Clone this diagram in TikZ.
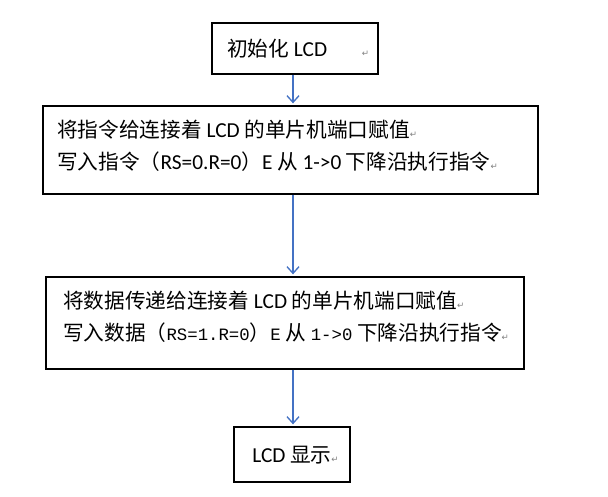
\documentclass[tikz,border=0pt]{standalone}
\usepackage{fontspec}
\setmainfont{Noto Sans CJK SC}
\newfontfamily\latfnt{Carlito}
\newfontfamily\monofnt{Liberation Mono}
\newfontfamily\symfnt{DejaVu Sans}
\usetikzlibrary{arrows.meta,fit}
\definecolor{arrowblue}{RGB}{68,114,196}
\newcommand\pmark{{\symfnt\fontsize{6.5}{8}\selectfont\color{gray}↵}}
\newcommand\lt[1]{{\latfnt\fontsize{16}{18}\selectfont #1}}
\newcommand\ms[1]{{\monofnt\fontsize{13}{15}\selectfont #1}}
\begin{document}
\begin{tikzpicture}[x=0.75pt,y=-0.75pt,
  box/.style={draw=black,line width=1pt,inner sep=0pt},
  txt/.style={anchor=base west,inner sep=0pt,font=\fontsize{15.5}{18}\selectfont},
  arr/.style={draw=arrowblue,line width=1pt,shorten >=1.5pt,-{Straight Barb[length=5pt,width=9pt]}}]
\fill[white] (0,0) rectangle (608,497);
\useasboundingbox (0,0) rectangle (608,497);

\node[box, fit={(212,23) (378,74)}] (b1) {};
\node[box, fit={(43,106) (538,194)}] (b2) {};
\node[box, fit={(46,277) (524,369)}] (b3) {};
\node[box, fit={(234,427) (350,482)}] (b4) {};

\node[txt] (t1) at (227,56) {初始化 \lt{LCD}\hspace{26pt}\pmark};
\node[txt] (t2a) at (57,137) {将指令给连接着 \lt{LCD} 的单片机端口赋值\pmark};
\node[txt] (t2b) at (57,169) {写入指令（\lt{RS=0.R=0}）\lt{E} 从 \lt{1->0} 下降沿执行指令\pmark};
\node[txt] (t3a) at (63,308) {将数据传递给连接着 \lt{LCD} 的单片机端口赋值\pmark};
\node[txt] (t3b) at (63,340) {写入数据（\ms{RS=1.R=0}）\ms{E} 从 \ms{1->0} 下降沿执行指令\pmark};
\node[txt] (t4) at (252,462) {\lt{LCD} 显示\pmark};

\coordinate (ax) at (293,0);
\draw[arr] (b1.south -| ax) -- (b2.north -| ax);
\draw[arr] (b2.south -| ax) -- (b3.north -| ax);
\draw[arr] (b3.south -| ax) -- (b4.north -| ax);
\end{tikzpicture}
\end{document}
